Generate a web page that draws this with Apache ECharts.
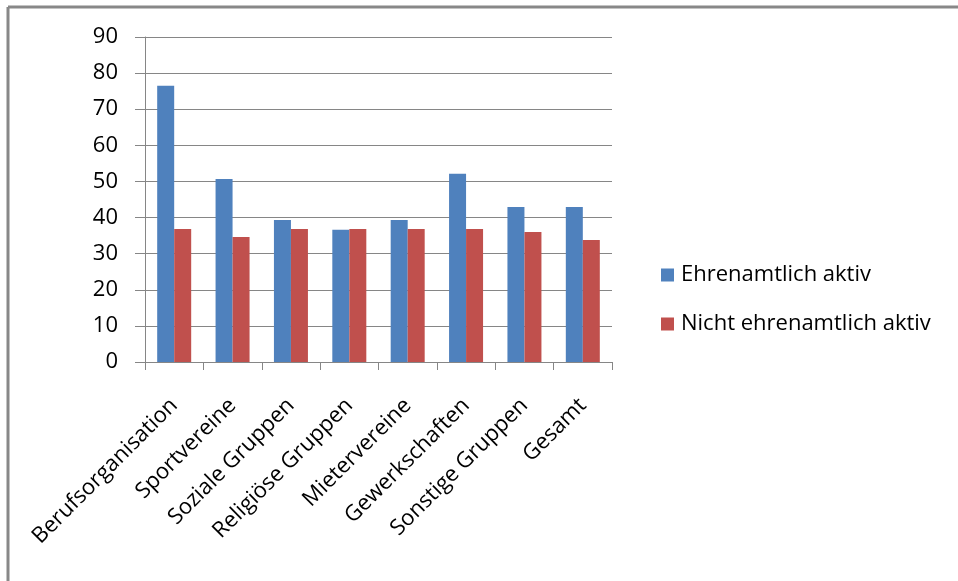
<!DOCTYPE html>
<html><head><meta charset="utf-8">
<script src="https://cdn.jsdelivr.net/npm/echarts@6/dist/echarts.min.js"></script>
<style>html,body{margin:0;padding:0;background:#fff}#c{width:958px;height:581px}</style>
</head><body><div id="c"></div>
<script>
const categories = ["Berufsorganisation","Sportvereine","Soziale Gruppen","Religiöse Gruppen","Mietervereine","Gewerkschaften","Sonstige Gruppen","Gesamt"];
const ehrenamtlich = [76.5, 50.7, 39.3, 36.6, 39.3, 52.1, 42.9, 42.9];
const nichtEhrenamtlich = [36.8, 34.6, 36.8, 36.8, 36.8, 36.8, 36.0, 33.8];
const yTicks = [0, 10, 20, 30, 40, 50, 60, 70, 80, 90];
const seriesNames = ["Ehrenamtlich aktiv", "Nicht ehrenamtlich aktiv"];

const font = "Open Sans";
const chart = echarts.init(document.getElementById('c'), null, {renderer: 'canvas'});
chart.setOption({
  animation: false,
  backgroundColor: '#fff',
  textStyle: {fontFamily: font, color: '#000'},
  graphic: [
    {type: 'line', shape: {x1: 8, y1: 7, x2: 958, y2: 7}, style: {stroke: '#888', lineWidth: 3}},
    {type: 'line', shape: {x1: 8, y1: 7, x2: 8, y2: 581}, style: {stroke: '#888', lineWidth: 3}}
  ],
  grid: {left: 145, right: 346, top: 37, bottom: 219, containLabel: false},
  legend: {
    orient: 'vertical', left: 656, top: 259,
    itemWidth: 13, itemHeight: 13, itemGap: 27,
    icon: 'rect',
    textStyle: {fontFamily: font, fontSize: 22, color: '#000', padding: [0,0,0,2]},
    data: seriesNames
  },
  xAxis: {
    type: 'category', data: categories,
    axisLine: {lineStyle: {color: '#868686', width: 1}},
    axisTick: {show: true, length: 8, lineStyle: {color: '#868686'}},
    axisLabel: {rotate: 45, interval: 0, fontFamily: font, fontSize: 22, color: '#000', margin: 40}
  },
  yAxis: {
    type: 'value', min: yTicks[0], max: yTicks[yTicks.length-1], interval: 10,
    axisLine: {show: true, lineStyle: {color: '#868686', width: 1}},
    axisTick: {show: true, length: 10, lineStyle: {color: '#868686'}},
    splitLine: {show: true, lineStyle: {color: '#868686', width: 1}},
    axisLabel: {fontFamily: font, fontSize: 22, color: '#000', margin: 27}
  },
  series: [
    {name: seriesNames[0], type: 'bar', data: ehrenamtlich, barWidth: 17, barGap: '0%', itemStyle: {color: '#4F81BD'}},
    {name: seriesNames[1], type: 'bar', data: nichtEhrenamtlich, barWidth: 17, barGap: '0%', itemStyle: {color: '#C0504D'}}
  ]
});
</script></body></html>
